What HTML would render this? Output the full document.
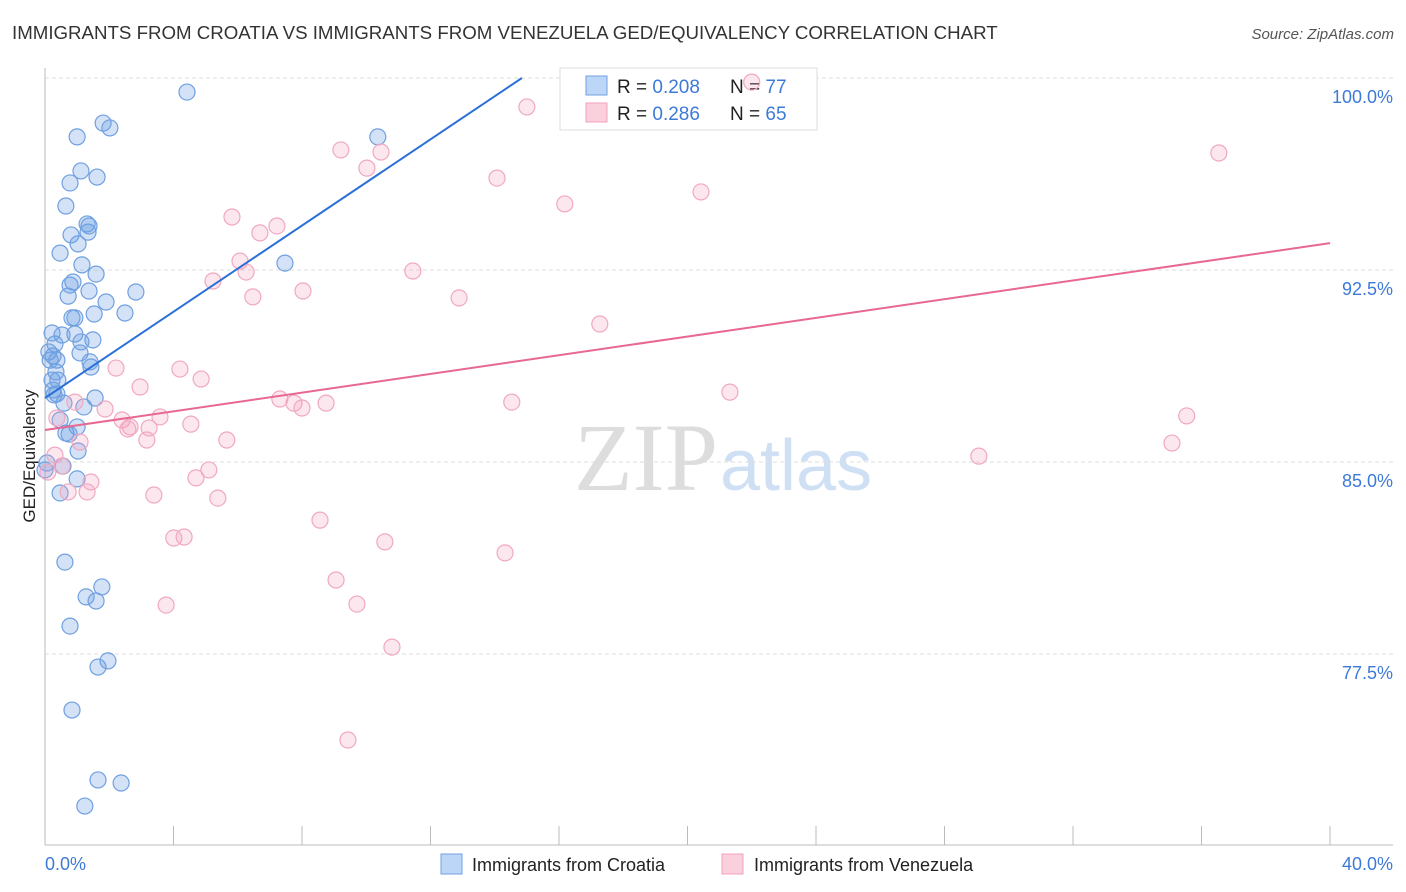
<!DOCTYPE html>
<html><head><meta charset="utf-8"><style>
body{margin:0;background:#fff;width:1406px;height:892px;overflow:hidden;font-family:"Liberation Sans",sans-serif}
svg{position:absolute;left:0;top:0}
</style></head><body>
<svg width="1406" height="892" id="chart">
<text x="12" y="39" font-size="18.7" fill="#333">IMMIGRANTS FROM CROATIA VS IMMIGRANTS FROM VENEZUELA GED/EQUIVALENCY CORRELATION CHART</text>
<text x="1394" y="39" font-size="15" fill="#555" font-style="italic" text-anchor="end">Source: ZipAtlas.com</text>
<text x="718" y="490" font-size="96" fill="#ddd" text-anchor="end" font-family="Liberation Serif,serif">ZIP</text>
<text x="720" y="490" font-size="72" fill="#cfe0f5">atlas</text>
<text x="35" y="456" font-size="17" fill="#222" text-anchor="middle" transform="rotate(-90 35 456)">GED/Equivalency</text>
<g id="grid"></g>
<g>
<rect x="560" y="68" width="257" height="62" fill="#fff" stroke="#ddd"/>
<rect x="586" y="76" width="21" height="19" fill="#bcd6f7" stroke="#6fa0e0"/>
<rect x="586" y="103" width="21" height="19" fill="#fbd0dd" stroke="#f0a0bc"/>
<text x="617" y="93" font-size="19" fill="#222">R = <tspan fill="#3d7ad8">0.208</tspan></text>
<text x="730" y="93" font-size="19" fill="#222">N = <tspan fill="#3d7ad8">77</tspan></text>
<text x="617" y="120" font-size="19" fill="#222">R = <tspan fill="#3d7ad8">0.286</tspan></text>
<text x="730" y="120" font-size="19" fill="#222">N = <tspan fill="#3d7ad8">65</tspan></text>
</g>
<g id="marks"></g>
<g>
<rect x="441" y="854" width="21" height="20" fill="#bcd6f7" stroke="#6fa0e0"/>
<text x="472" y="871" font-size="18" fill="#222">Immigrants from Croatia</text>
<rect x="722" y="854" width="21" height="20" fill="#fbd0dd" stroke="#f0a0bc"/>
<text x="754" y="871" font-size="18" fill="#222">Immigrants from Venezuela</text>
</g>
</svg>
<script>
const yTicks=[100,92.5,85,77.5];
const yTickLabels=["100.0%","92.5%","85.0%","77.5%"];
const xEnds=["0.0%","40.0%"];
const croatiaX=[4.42,1.81,2.02,1.00,10.36,1.12,1.62,0.78,0.65,1.31,1.37,1.34,0.81,1.03,0.47,7.47,1.15,1.59,0.87,0.78,2.83,1.37,0.72,1.90,2.49,1.53,0.84,0.93,0.93,0.22,0.53,0.31,1.49,1.12,0.12,0.25,1.09,0.37,1.40,1.43,0.34,0.22,0.40,0.25,0.37,0.28,1.56,0.59,1.21,0.47,1.00,0.65,0.75,1.03,0.06,0.56,1.00,0.47,0.62,1.77,1.28,1.59,0.78,1.96,1.65,0.84,1.65,2.37,1.24,0.0,0.16];
const croatiaY=[99.45,98.24,98.05,97.70,97.70,96.37,96.13,95.90,95.00,94.30,94.22,93.98,93.87,93.52,93.16,92.77,92.70,92.34,92.03,91.91,91.64,91.68,91.48,91.25,90.82,90.78,90.63,90.63,90.00,90.04,89.96,89.61,89.77,89.69,89.30,89.14,89.26,88.98,88.91,88.71,88.52,88.20,88.20,87.81,87.66,87.62,87.50,87.30,87.15,86.64,86.37,86.13,86.09,85.43,84.96,84.84,84.34,83.79,81.09,80.12,79.73,79.57,78.59,77.23,76.99,75.31,72.58,72.46,71.56,84.69,88.98];
const venX=[22.00,15.00,36.54,9.21,10.46,10.02,14.07,20.42,16.18,5.82,7.22,6.69,6.07,6.26,11.45,5.23,8.03,6.47,12.89,17.27,2.21,4.20,4.86,2.96,21.32,7.31,7.75,8.75,8.00,14.53,35.54,3.58,2.40,1.87,2.65,4.54,0.93,3.24,2.58,0.37,3.17,5.66,1.09,35.08,29.07,0.31,0.53,0.09,5.10,4.70,1.43,1.31,0.72,3.39,5.38,8.56,4.01,4.33,10.58,14.32,9.06,3.77,9.71,10.80,9.43];
const venY=[99.84,98.87,97.07,97.19,97.11,96.48,96.09,95.55,95.08,94.57,94.22,93.95,92.85,92.42,92.46,92.07,91.68,91.45,91.41,90.39,88.67,88.63,88.24,87.93,87.73,87.46,87.30,87.30,87.11,87.34,86.80,86.76,86.64,87.07,86.37,86.48,87.34,86.33,86.29,86.72,85.86,85.86,85.78,85.74,85.23,85.27,84.84,84.61,84.69,84.38,84.22,83.83,83.83,83.71,83.59,82.73,82.03,82.07,81.88,81.45,80.39,79.41,79.45,77.77,74.14];
const croatiaTrend=[87.5,0.842];
const venTrend=[86.25,0.1825];
const NS="http://www.w3.org/2000/svg";
const sx=v=>45+v*32.125, sy=v=>78+(100-v)*25.6;
function mk(tag,at,parent){const e=document.createElementNS(NS,tag);for(const k in at)e.setAttribute(k,at[k]);parent.appendChild(e);return e;}
const g=document.getElementById('grid'), m=document.getElementById('marks');
yTicks.forEach((t,i)=>{
 const l=mk('line',{x1:45,x2:1393,y1:sy(t),y2:sy(t),stroke:'#ddd','stroke-dasharray':'4 3'},g);
 
 
 const tx=mk('text',{x:1393,y:sy(t)+25,'font-size':18,fill:'#3d7ad8','text-anchor':'end'},g);tx.textContent=yTickLabels[i];
 
 
});
const ax=mk('line',{x1:45,x2:1393,y1:845,y2:845,stroke:'#bbb'},g);


const ay=mk('line',{x1:45,x2:45,y1:68,y2:845,stroke:'#bbb'},g);


for(let i=1;i<=10;i++){const t=mk('line',{x1:sx(i*4),x2:sx(i*4),y1:826,y2:845,stroke:'#bbb'},g);
 
 }
const x0=mk('text',{x:45,y:870,'font-size':18,fill:'#3d7ad8'},g);x0.textContent=xEnds[0];


const x1=mk('text',{x:1393,y:870,'font-size':18,fill:'#3d7ad8','text-anchor':'end'},g);x1.textContent=xEnds[1];


croatiaX.forEach((x,i)=>{const c=mk('circle',{cx:sx(x),cy:sy(croatiaY[i]),r:8,fill:'rgba(110,160,230,0.3)',stroke:'#6fa0e0','stroke-width':1.2},m);
 
 });
venX.forEach((x,i)=>{const c=mk('circle',{cx:sx(x),cy:sy(venY[i]),r:8,fill:'rgba(245,160,190,0.25)',stroke:'#f0a8c0','stroke-width':1.2},m);
 
 });
const bxEnd=(100-croatiaTrend[0])/croatiaTrend[1];
const bl=mk('line',{x1:sx(0),y1:sy(croatiaTrend[0]),x2:sx(bxEnd),y2:sy(100),stroke:'#2a70d8','stroke-width':2},m);


const pl=mk('line',{x1:sx(0),y1:sy(venTrend[0]),x2:sx(40),y2:sy(venTrend[0]+40*venTrend[1]),stroke:'#e86890','stroke-width':2},m);


</script>
</body></html>
